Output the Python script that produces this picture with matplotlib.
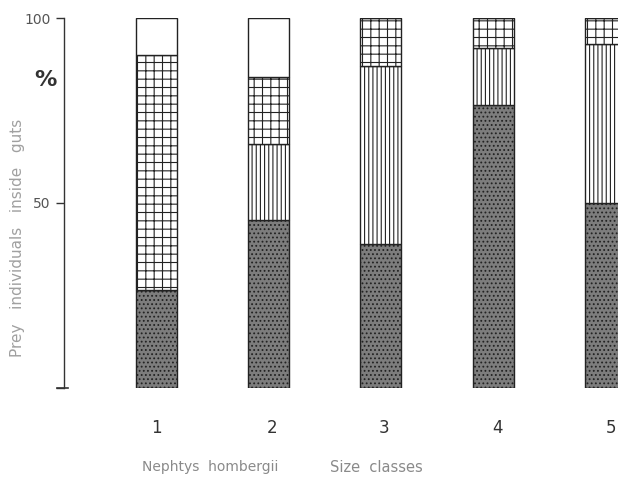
import matplotlib
matplotlib.use("Agg")
import matplotlib.pyplot as plt
import numpy as np

# Nephtys hombergii size classes, % of prey individuals inside guts
size_classes = [1, 2, 3, 4, 5]
dark = [26.5, 45.5, 39.0, 76.5, 50.0]       # stippled, bottom
vertical = [0.0, 20.5, 48.0, 15.5, 43.0]    # vertical lines
grid = [63.5, 18.0, 13.0, 8.0, 7.0]         # cross-hatched
white = [10.0, 16.0, 0.0, 0.0, 0.0]         # open, top

plt.rcParams["font.family"] = ["DejaVu Sans"]
plt.rcParams["hatch.linewidth"] = 0.8

fig = plt.figure(figsize=(6.18, 4.78), dpi=100)
ax = fig.add_axes([64 / 618, 90 / 478, 1 - 64 / 618, 370 / 478])

x = np.array(size_classes, dtype=float)
w = 0.365
bottom = np.zeros(len(x))
styles = [
    (dark, "#7d7d7d", "...."),
    (vertical, "white", "||||"),
    (grid, "white", "++"),
    (white, "white", None),
]
for vals, fc, hatch in styles:
    vals = np.array(vals)
    ax.bar(x, vals, width=w, bottom=bottom, color=fc, hatch=hatch,
           edgecolor="#222222", linewidth=1.0)
    bottom += vals

ax.set_xlim(0.18, 5.11)
ax.set_ylim(0, 100)
for s in ("top", "right", "bottom"):
    ax.spines[s].set_visible(False)
ax.spines["left"].set_color("#333333")
ax.spines["left"].set_linewidth(1.0)

ax.set_yticks([0, 50, 100])
ax.set_yticklabels(["", "50", "100"], color="#555555", fontsize=10)
ax.tick_params(axis="y", direction="out", length=6, width=1.0, color="#333333")
# base tick crosses the axis line
ax.plot([-0.013, 0.008], [0, 0], transform=ax.get_yaxis_transform(),
        color="#333333", lw=1.2, clip_on=False)

ax.set_xticks(x + np.array([0.0, 0.03, 0.03, 0.04, 0.05]))
ax.set_xticklabels([str(s) for s in size_classes], fontsize=12, color="#333333")
ax.tick_params(axis="x", length=0, pad=22)

fig.text(18 / 618, 1 - 238 / 478, "Prey   individuals   inside   guts", rotation=90,
         ha="center", va="center", fontsize=11, color="#a0a0a0")
fig.text(45 / 618, 1 - 80 / 478, "%", ha="center", va="center",
         fontsize=16, fontweight="bold", color="#333333")
fig.text(210 / 618, 1 - 467 / 478, "Nephtys  hombergii",
         ha="center", va="center", fontsize=10, color="#8a8a8a")
fig.text(376 / 618, 1 - 467 / 478, "Size  classes",
         ha="center", va="center", fontsize=10.5, color="#8a8a8a")

fig.savefig("out.png", dpi=100)
